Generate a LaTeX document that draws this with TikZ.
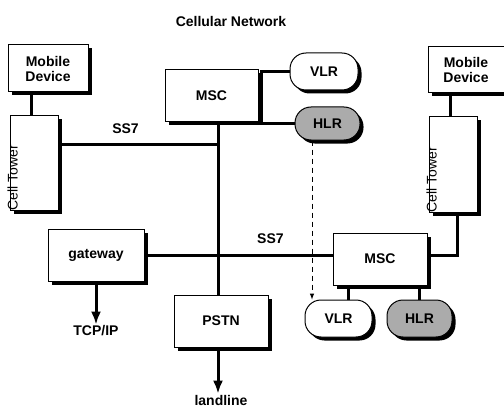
\documentclass[tikz,border=0pt]{standalone}
\usepackage{fontspec}
\setmainfont{Liberation Sans}
\usetikzlibrary{shadows,shapes,positioning,arrows,arrows.meta}
\tikzset{
	block/.style n args={1}{
		draw, % Draw a border
		rectangle, % Shape of the node
		line width=1pt, % Thin border
		minimum height=52pt, % Minimum height of the node
		minimum width=94pt, % Minimum width of the node
		inner sep=0pt,
		align=center, % Text alignment within the node
		font=\fontsize{14}{15}\selectfont\bfseries,
		drop shadow={shadow xshift=3.5pt, shadow yshift=-3.5pt, fill=black, opacity=1},
		% Apply fill color based on parameter
		fill=#1
	},
	store/.style n args={1}{
		block=#1, % Same as a block
		rounded corners=16pt, % but with round ends
		minimum height=37pt,
		minimum width=66pt
	},
	tower/.style={
		rotate=90, % Text runs upwards
		anchor=base west,
		inner sep=0pt,
		font=\fontsize{14}{15}\selectfont
	},
	tag/.style={
		inner sep=1pt,
		font=\fontsize{14}{15}\selectfont\bfseries
	},
	link/.style={line width=3pt},
	feed/.style={line width=3pt, -{Latex[length=13pt, width=10pt]}}
}

\begin{document}
\begin{tikzpicture}[x=1pt, y=1pt, node distance=81pt]
	\useasboundingbox (0,0) rectangle (504,408);
	
	\node[tag] (title) at (231,387) {Cellular Network};
	
	\node[block=white, minimum width=80pt, minimum height=47pt] (mob1) at (48,339.5) {Mobile\\Device};
	\node[block=white, minimum width=48pt, minimum height=94pt] (tower1) at (34,245) {};
	\node[tower] (cell1) at ([xshift=8]tower1.south west) {Cell Tower};
	\draw[link] ([xshift=-3]tower1.north) -- ([xshift=-3]tower1.north |- mob1.south);
	
	\node[block=white, minimum width=76pt, minimum height=46pt] (mob2) at (466,338) {Mobile\\Device};
	\node[block=white, minimum width=48pt, minimum height=95pt] (tower2) at (453,243.5) {};
	\node[tower] (cell2) at ([xshift=8]tower2.south west) {Cell Tower};
	\draw[link] ([xshift=-3]tower2.north) -- ([xshift=-3]tower2.north |- mob2.south);
	
	\node[block=white, minimum width=93pt] (msc1) at (211.5,312) {MSC};
	\node[store=white, minimum width=68pt] (vlr1) at (324,336.5) {VLR};
	\node[store=black!33, minimum width=65pt, minimum height=33pt] (hlr1) at (327.5,284.5) {HLR};
	\draw[link] (vlr1.west) -| ([xshift=3]msc1.east |- hlr1.west) -- (hlr1.west);
	
	\node[block=white] (pstn) at (221,87) {PSTN};
	\coordinate (bus) at ([xshift=-3]pstn.north);
	\draw[link] (bus |- msc1.south) -- (bus);
	\draw[link] ([yshift=19]tower1.east) coordinate (s1) -- (s1 -| bus) node[tag, above=8pt, pos=0.42] {SS7};
	
	\node[block=white, minimum width=96pt] (gateway) at (96,153) {gateway};
	\node[block=white] (msc2) at (380,149) {MSC};
	\draw[link] (gateway.east) -- (gateway.east -| msc2.west) node[tag, above=9pt, pos=0.67] {SS7};
	\draw[link] ([xshift=4]tower2.south) |- ([yshift=4]msc2.east);
	
	\node[store=white, minimum width=67pt] (vlr2) at (338.5,89.5) {VLR};
	\node[store=black!33, minimum width=65pt, right of=vlr2] (hlr2) {HLR};
	\draw[link] ([xshift=10]vlr2.north) -- ([xshift=10]vlr2.north |- msc2.south);
	\draw[link] (hlr2.north) -- (hlr2.north |- msc2.south);
	\draw[dashed, dash pattern=on 5pt off 4pt, line width=1pt, -latex] ([xshift=-15.5]hlr1.south) -- ([xshift=-15.5]hlr1.south |- vlr2.north);
	
	\node[tag, below of=gateway, node distance=76pt] (tcp) {TCP/IP};
	\draw[feed] (gateway.south) -- (gateway.south |- tcp.north);
	
	\node[tag, below of=pstn, node distance=79pt] (land) {landline};
	\draw[feed] ([xshift=-3]pstn.south) -- ([xshift=-3]pstn.south |- land.north);
	
\end{tikzpicture}
\end{document}
